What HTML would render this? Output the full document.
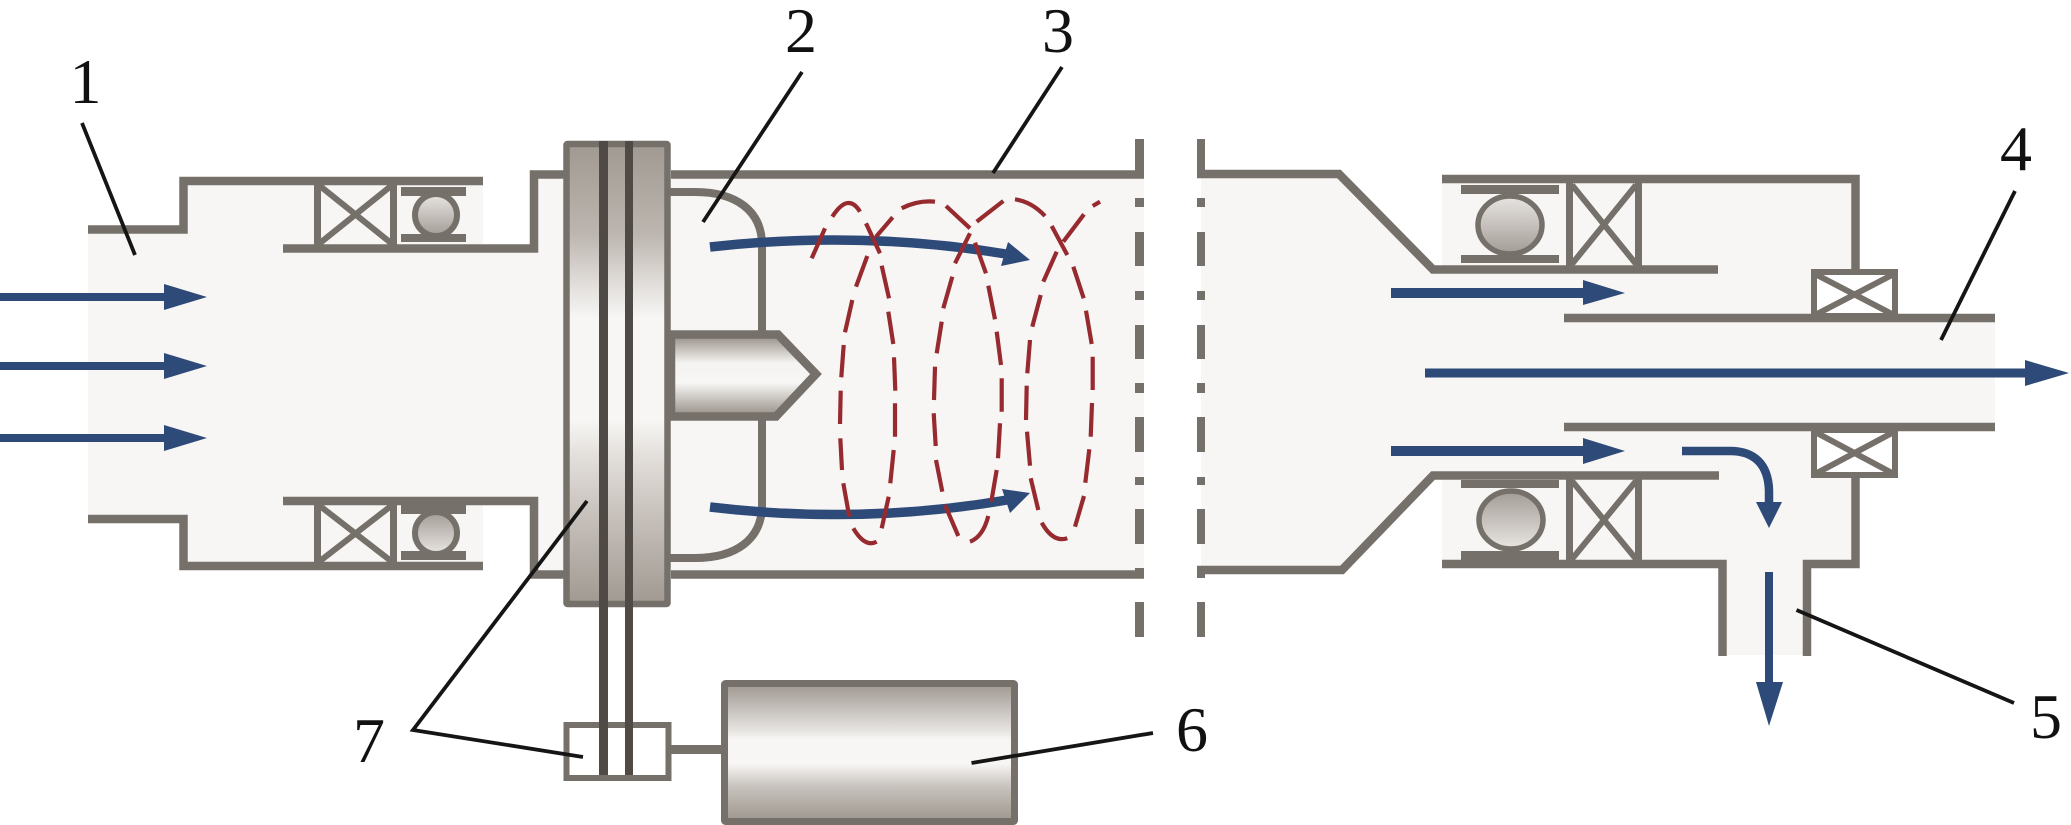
<!DOCTYPE html>
<html>
<head>
<meta charset="utf-8">
<style>
html,body{margin:0;padding:0;background:#fff;}
svg{display:block;}
text{font-family:"Liberation Serif",serif;font-size:64px;fill:#111;text-anchor:middle;}
</style>
</head>
<body>
<svg width="2071" height="825" viewBox="0 0 2071 825" xmlns="http://www.w3.org/2000/svg">
<defs>
<linearGradient id="fl" x1="0" y1="141" x2="0" y2="607" gradientUnits="userSpaceOnUse">
<stop offset="0" stop-color="#9f9890"/><stop offset="0.2" stop-color="#bdb6b0"/><stop offset="0.32" stop-color="#e5e2df"/><stop offset="0.38" stop-color="#f7f6f4"/><stop offset="0.6" stop-color="#f7f6f4"/><stop offset="0.68" stop-color="#e2deda"/><stop offset="0.82" stop-color="#c4bdb8"/><stop offset="1" stop-color="#9f9890"/>
</linearGradient>
<linearGradient id="no" x1="0" y1="338" x2="0" y2="413" gradientUnits="userSpaceOnUse">
<stop offset="0" stop-color="#9f9890"/><stop offset="0.33" stop-color="#f4f3f1"/><stop offset="0.6" stop-color="#f7f6f4"/><stop offset="1" stop-color="#9f9890"/>
</linearGradient>
<linearGradient id="mo" x1="0" y1="686" x2="0" y2="820" gradientUnits="userSpaceOnUse">
<stop offset="0" stop-color="#a29b95"/><stop offset="0.33" stop-color="#e6e3e0"/><stop offset="0.4" stop-color="#f7f6f4"/><stop offset="0.58" stop-color="#f7f6f4"/><stop offset="0.75" stop-color="#c8c3be"/><stop offset="1" stop-color="#9f9890"/>
</linearGradient>
<linearGradient id="b1" x1="0" y1="0" x2="0" y2="1">
<stop offset="0" stop-color="#e8e5e2"/><stop offset="1" stop-color="#a39c96"/>
</linearGradient>
<linearGradient id="b2" x1="0" y1="0" x2="0" y2="1">
<stop offset="0" stop-color="#a39c96"/><stop offset="1" stop-color="#e8e5e2"/>
</linearGradient>
</defs>

<!-- fills -->
<path fill="#f7f6f4" d="M88,230 H183 V181 H483 V249 H534 V175 H1144 V575 H534 V501 H483 V566 H183 V519 H88 Z"/>
<path fill="#f7f6f4" d="M1201,174 H1339 L1433,270 H1442 V179 H1856 V270 H1811 V318 H1995 V427 H1811 V477 H1856 V564 H1807 V655 H1723 V564 H1442 V472 H1433 L1342,570 H1201 Z"/>

<g fill="none" stroke="#76706a" stroke-width="8.5">
<!-- left housing -->
<path d="M88,229.5 H183.5 V181 H483"/>
<path d="M283,248.5 H534 V174.5 H564"/>
<path d="M88,519 H183.5 V566 H483"/>
<path d="M283,501 H534 V574.5 H564"/>
<!-- main chamber -->
<path d="M671,174.5 H1144"/>
<path d="M671,574.5 H1144"/>
<!-- right housing -->
<path d="M1197,174 H1339 L1433,269.5 H1718"/>
<path d="M1197,570 H1342 L1433,475.5 H1719"/>
<path d="M1442,179 H1855.5 V272"/>
<path d="M1564,318 H1995"/>
<path d="M1564,427 H1995"/>
<path d="M1855.5,475 V564 H1807 V656"/>
<path d="M1442,564 H1722.5 V656"/>
<!-- inner curved wall -->
<path stroke-width="8" d="M668,192 H695 C735,192 762,210 762,245 V332"/>
<path stroke-width="8" d="M762,418 V505 C762,540 735,558 695,558 H668"/>
</g>

<!-- dash-dot break lines -->
<g fill="#76706a">
<rect x="1135" y="139" width="9" height="37"/><rect x="1135" y="198" width="9" height="9"/><rect x="1135" y="232" width="9" height="34"/><rect x="1135" y="291" width="9" height="9"/><rect x="1135" y="325" width="9" height="34"/><rect x="1135" y="383" width="9" height="10"/><rect x="1135" y="417" width="9" height="35"/><rect x="1135" y="477" width="9" height="8"/><rect x="1135" y="509" width="9" height="35"/><rect x="1135" y="568" width="9" height="10"/><rect x="1135" y="602" width="9" height="35"/>
<rect x="1197" y="139" width="8" height="37"/><rect x="1197" y="198" width="8" height="9"/><rect x="1197" y="232" width="8" height="34"/><rect x="1197" y="291" width="8" height="9"/><rect x="1197" y="325" width="8" height="34"/><rect x="1197" y="383" width="8" height="10"/><rect x="1197" y="417" width="8" height="35"/><rect x="1197" y="477" width="8" height="8"/><rect x="1197" y="509" width="8" height="35"/><rect x="1197" y="568" width="8" height="10"/><rect x="1197" y="602" width="8" height="35"/>
</g>

<!-- left bearings -->
<g fill="none" stroke="#76706a">
<path stroke-width="7" d="M317.5,184 V245 M393.5,184 V245"/>
<path stroke-width="6" d="M320,186 L391,243 M391,186 L320,243"/>
<path stroke-width="7" d="M317.5,504 V563 M393.5,504 V563"/>
<path stroke-width="6" d="M320,506 L391,561 M391,506 L320,561"/>
<circle cx="436" cy="215" r="21" stroke-width="6" fill="url(#b1)"/>
<circle cx="436" cy="533" r="21" stroke-width="6" fill="url(#b2)"/>
<!-- right bearings -->
<path stroke-width="7" d="M1569.5,183 V266 M1638.5,183 V266"/>
<path stroke-width="6" d="M1572,185 L1636,264 M1636,185 L1572,264"/>
<path stroke-width="7" d="M1569.5,479 V561 M1638.5,479 V561"/>
<path stroke-width="6" d="M1572,481 L1636,559 M1636,481 L1572,559"/>
<ellipse cx="1510" cy="225" rx="32" ry="29" stroke-width="5.5" fill="url(#b1)"/>
<ellipse cx="1511" cy="520" rx="32" ry="29" stroke-width="5.5" fill="url(#b2)"/>
<!-- small bearings -->
<rect x="1814" y="272" width="81" height="44" stroke-width="6"/>
<path stroke-width="6" d="M1817,275 L1892,314 M1892,275 L1817,314"/>
<rect x="1814" y="430" width="81" height="45" stroke-width="6"/>
<path stroke-width="6" d="M1817,433 L1892,473 M1892,433 L1817,473"/>
</g>
<g fill="#76706a">
<rect x="401" y="187" width="65" height="9"/><rect x="401" y="234" width="65" height="8"/>
<rect x="401" y="505" width="65" height="9"/><rect x="401" y="551" width="65" height="9"/>
<rect x="1461" y="185" width="98" height="9"/><rect x="1461" y="255" width="98" height="8"/>
<rect x="1461" y="480" width="98" height="8"/><rect x="1461" y="551" width="98" height="9"/>
</g>

<!-- nozzle -->
<path d="M671,334.5 H778 L816,374 L776,416.5 H671 Z" fill="url(#no)" stroke="#76706a" stroke-width="8.5"/>

<!-- flange -->
<rect x="566.5" y="144" width="101" height="460" rx="1" fill="url(#fl)" stroke="#76706a" stroke-width="6.5"/>

<!-- clutch + motor -->
<rect x="566.5" y="725" width="102" height="53" fill="#fff" stroke="#76706a" stroke-width="6"/>
<rect x="671" y="745" width="50" height="9" fill="#76706a"/>
<rect x="724.5" y="683.5" width="290" height="138" rx="1" fill="url(#mo)" stroke="#76706a" stroke-width="7"/>

<!-- shafts -->
<rect x="599" y="141" width="9" height="634" fill="#4f4a46"/>
<rect x="625" y="141" width="8" height="634" fill="#4f4a46"/>

<!-- blue arrows -->
<g fill="#2e4a78">
<rect x="0" y="293" width="165" height="8"/><polygon points="164,284 207,297 164,310"/>
<rect x="0" y="362" width="165" height="8"/><polygon points="164,353 207,366 164,379"/>
<rect x="0" y="434" width="165" height="8"/><polygon points="164,425 207,438 164,451"/>
<rect x="1391" y="288" width="194" height="10"/><polygon points="1583,280 1625,293 1583,305"/>
<rect x="1391" y="446" width="194" height="10"/><polygon points="1583,438 1625,451 1583,464"/>
<rect x="1425" y="368.5" width="601" height="9"/><polygon points="2025,360 2069,373 2025,386"/>
<polygon points="1756,502 1782,502 1769,528"/>
<rect x="1765" y="572" width="8" height="112"/><polygon points="1756,682 1783,682 1769,726"/>
<polygon points="1008,242 1030,260 1001,266"/>
<polygon points="1002,489 1030,493 1010,513"/>
</g>
<g fill="none" stroke="#2e4a78">
<path stroke-width="8.5" d="M1682,451 H1730 C1755,451 1768,465 1769,490 V504"/>
<path stroke-width="9.5" d="M710,247 Q860,230 1006,254"/>
<path stroke-width="9.5" d="M710,507 Q860,525 1007,500"/>
</g>

<!-- red spiral -->
<path fill="none" stroke="#972a2e" stroke-width="4.2" d="M811.7,258.3 L825,228.3 M832.3,216.7 Q848.3,192 860,211.7 M866,223.3 L880,253.3 M881.7,265.7 L889,298.3 M888.3,311.7 L893.3,344 M894,357.3 L895.3,390.7 M895,403.3 L895,436.7 M893.7,450 L890.3,483.3 M888.7,496.7 L881.7,528.3 M876.7,541.7 Q865,548 853.3,528.3 M849.3,516.7 L843.3,483.3 M842,470 L840.3,438.3 M840,424 L840.7,390.7 M841.3,377.3 L843.7,345 M845,332.3 L852.3,300 M856,286.7 L867.3,256 M876,236.7 L892.7,217.3 M901.7,208.3 Q918,200 935,201.7 M946,206 L970,228.3 M975,242.7 L986,273.3 M988.3,285.7 L995,319.3 M996.7,331.7 L1001,365 M1001.7,378.3 L1001.7,411.7 M1000,423.3 L998,458.3 M996.7,470 L991.3,501.7 M988.3,516 Q983,536.7 970,541.7 M958.3,536 L945,505 M942.3,491.7 L936,460 M935.7,446 L933.7,413.3 M934,400 L935,366.7 M936.7,353.3 L941.7,321.7 M943.3,308.3 L952.3,276.7 M955,263.3 L970,233.3 M976.7,221.7 L1003.3,201 M1015,199.3 Q1031.7,201.7 1045,216 M1051.7,226 L1067.3,255 M1073.3,266.7 L1083.7,298.3 M1086,310.7 L1091.7,344 M1092.7,356.7 L1092.7,390 M1092,403 L1090.7,436.7 M1089.3,449.3 L1085.3,482.7 M1084,496 L1075,526.7 M1067.3,538.3 Q1053,543 1041.7,522.7 M1038.3,510 L1030.7,478.3 M1030,465.7 L1027,431.7 M1026,420 L1026.7,385.7 M1027.3,373.3 L1030,340 M1032.3,326.7 L1040.7,295 M1043.3,281.7 L1056.7,251.7 M1063.3,241.7 L1084,214.3 M1092.7,206 L1100,201.7"/>

<!-- leaders -->
<g fill="none" stroke="#151515" stroke-width="3.8">
<path d="M82,123 L135,255"/>
<path d="M802,72 L703,222"/>
<path d="M1062,67 L993,173"/>
<path d="M2015,191 L1941,340"/>
<path d="M1796.5,610 L2014,703"/>
<path d="M1153,733 L971.5,763"/>
<path d="M587,501 L413,730 L583,757"/>
</g>

<!-- labels -->
<text x="85.5" y="103">1</text>
<text x="801" y="52">2</text>
<text x="1058" y="52">3</text>
<text x="2016" y="170">4</text>
<text x="2046" y="738">5</text>
<text x="1192" y="751">6</text>
<text x="369" y="762">7</text>
</svg>
</body>
</html>
